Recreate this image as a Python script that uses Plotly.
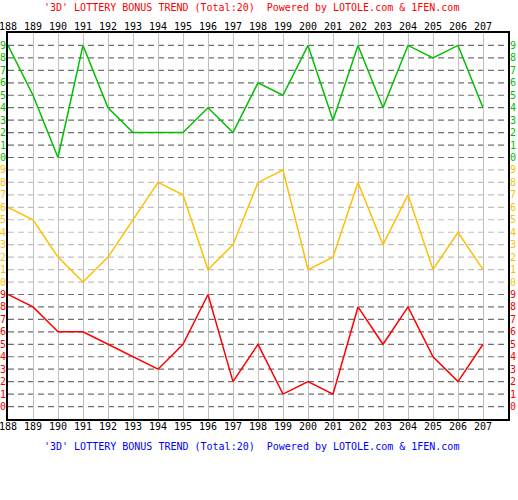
import plotly.graph_objects as go

# draw numbers along the x axis
issues = list(range(188, 208))

# digit per position (top band = green, middle = orange, bottom = red)
green_vals = [9, 5, 0, 9, 4, 2, 2, 2, 4, 2, 6, 5, 9, 3, 9, 4, 9, 8, 9, 4]
orange_vals = [6, 5, 2, 0, 2, 5, 8, 7, 1, 3, 8, 9, 1, 2, 8, 3, 7, 1, 4, 1]
red_vals = [9, 8, 6, 6, 5, 4, 3, 5, 9, 2, 5, 1, 2, 1, 8, 5, 8, 4, 2, 5]

digits = list(range(10))

title_text = "'3D' LOTTERY BONUS TREND (Total:20)  Powered by LOTOLE.com & 1FEN.com"

# band: (values, colour, level offset, grid colour)
bands = [
    (red_vals, "#ff0000", 0, "#707070"),
    (orange_vals, "#ffbf00", 10, "#c0c0c0"),
    (green_vals, "#00c000", 20, "#707070"),
]

FONT = "DejaVu Sans Mono"

fig = go.Figure()

tickvals, ticktext = [], []
shapes = []
for vals, color, off, gridc in bands:
    fig.add_trace(go.Scatter(
        x=issues, y=[v + off for v in vals],
        mode="lines", line=dict(color=color, width=1.5),
        showlegend=False, hoverinfo="skip"
    ))
    for d in digits:
        tickvals.append(d + off)
        ticktext.append(f"<span style='color:{color}'>{d}</span>")
        # dashed horizontal guide for each digit level
        shapes.append(dict(
            type="line", xref="paper", yref="y", x0=0, x1=1,
            y0=d + off, y1=d + off,
            line=dict(color=gridc, width=1.2, dash="6px,4px"), layer="below"
        ))

# invisible trace so the mirrored axes get drawn
fig.add_trace(go.Scatter(x=issues, y=[None] * len(issues), xaxis="x2", yaxis="y2",
                         showlegend=False, hoverinfo="skip"))

xcommon = dict(
    range=[188, 208], tickvals=issues, ticktext=[str(i) for i in issues],
    showgrid=True, gridcolor="#c0c0c0", gridwidth=1, zeroline=False,
    ticks="", tickfont=dict(family=FONT, size=10, color="#000000"),
    showline=True, linecolor="#000000", linewidth=2,
    automargin=False, ticklabeloverflow="allow",
)
ycommon = dict(
    range=[-1, 30], tickvals=tickvals, ticktext=ticktext,
    showgrid=False, zeroline=False, ticks="",
    tickfont=dict(family=FONT, size=10),
    showline=True, linecolor="#000000", linewidth=2,
    automargin=False, ticklabeloverflow="allow", ticklabelstandoff=-2,
)

fig.update_layout(
    width=518, height=500,
    margin=dict(l=8, r=10, t=33, b=81, autoexpand=False),
    paper_bgcolor="white", plot_bgcolor="white",
    xaxis=dict(**xcommon, side="bottom", ticklabelstandoff=-3),
    xaxis2=dict(**xcommon, side="top", overlaying="x", anchor="y", ticklabelstandoff=-3),
    yaxis=dict(**ycommon, side="left"),
    yaxis2=dict(**ycommon, side="right", overlaying="y", anchor="x"),
    shapes=shapes,
    annotations=[
        dict(text=title_text, xref="paper", yref="paper", x=0.486, y=1.067,
             yanchor="middle", showarrow=False,
             font=dict(family=FONT, size=10, color="#ff0000")),
        dict(text=title_text, xref="paper", yref="paper", x=0.486, y=-0.0725,
             yanchor="middle", showarrow=False,
             font=dict(family=FONT, size=10, color="#0000ff")),
    ],
)

# page body has a default 8px margin; drop it so the chart sits at the corner
fig.write_html("out.html", config={"displayModeBar": False},
               post_script="document.body.style.margin='0';")
